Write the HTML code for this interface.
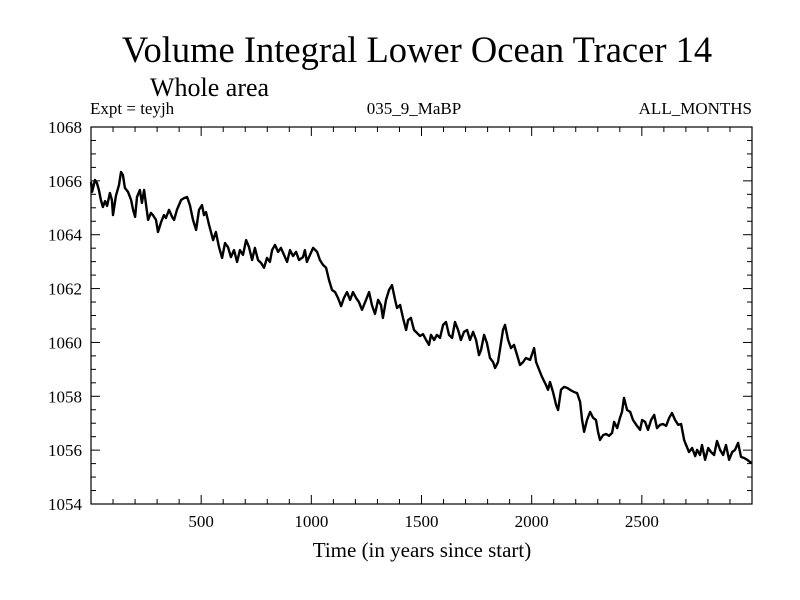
<!DOCTYPE html>
<html><head><meta charset="utf-8"><style>
html,body{margin:0;padding:0;background:#fff;}
svg{display:block;font-family:"Liberation Serif",serif;}
</style></head><body>
<svg id="chart" width="800" height="600" viewBox="0 0 800 600" xmlns="http://www.w3.org/2000/svg">
<rect width="800" height="600" fill="#fff"/>
<text x="417" y="62" font-size="36.5" text-anchor="middle">Volume Integral Lower Ocean Tracer 14</text>
<text x="150" y="96" font-size="26">Whole area</text>
<text x="90" y="114" font-size="17">Expt = teyjh</text>
<text x="414" y="114" font-size="17" text-anchor="middle">035_9_MaBP</text>
<text x="752" y="114" font-size="17" text-anchor="end">ALL_MONTHS</text>
<g id="axes"></g>
<path id="series" fill="none" stroke="#000" stroke-width="2.4" stroke-linejoin="round"/>
<text x="422" y="557" font-size="21" text-anchor="middle">Time (in years since start)</text>
</svg>
<script>
const years=[0,5,18,27,36,45,54,64,73,86,95,100,113,127,136,145,154,168,182,191,200,209,222,231,241,250,259,272,281,295,304,318,331,340,354,368,377,390,409,422,436,449,463,477,490,504,513,522,536,554,567,581,595,608,622,635,649,663,676,690,704,717,731,744,758,772,785,799,812,822,835,849,862,876,890,903,917,931,944,962,971,980,994,1008,1026,1039,1053,1067,1080,1094,1108,1121,1135,1148,1162,1176,1189,1203,1216,1230,1248,1262,1275,1289,1303,1316,1325,1339,1353,1366,1380,1389,1403,1416,1430,1439,1452,1466,1480,1493,1507,1521,1534,1543,1557,1570,1584,1598,1611,1625,1639,1652,1666,1679,1693,1707,1720,1734,1748,1761,1770,1784,1797,1811,1825,1834,1847,1856,1870,1879,1893,1906,1920,1934,1947,1961,1974,1993,2011,2020,2034,2047,2065,2074,2083,2097,2111,2120,2133,2147,2161,2174,2192,2206,2220,2229,2238,2251,2265,2279,2292,2301,2310,2324,2338,2351,2365,2374,2388,2401,2410,2419,2433,2447,2460,2478,2492,2501,2515,2528,2542,2556,2569,2583,2596,2610,2624,2637,2651,2665,2678,2692,2701,2714,2728,2742,2751,2764,2773,2787,2801,2814,2828,2841,2855,2869,2882,2896,2910,2923,2937,2950,2964,2978,2991,3000];
const values=[1065.96,1065.59,1066.03,1065.92,1065.66,1065.29,1065.03,1065.25,1065.07,1065.55,1065.29,1064.73,1065.44,1065.85,1066.33,1066.22,1065.74,1065.59,1065.29,1064.92,1064.66,1065.40,1065.66,1065.18,1065.66,1065.10,1064.55,1064.81,1064.73,1064.55,1064.10,1064.47,1064.73,1064.62,1064.92,1064.66,1064.55,1064.92,1065.29,1065.36,1065.40,1065.10,1064.55,1064.18,1064.92,1065.10,1064.73,1064.84,1064.36,1063.80,1064.10,1063.54,1063.14,1063.69,1063.54,1063.17,1063.43,1062.99,1063.43,1063.25,1063.80,1063.54,1063.06,1063.51,1063.06,1062.95,1062.77,1063.14,1062.99,1063.43,1063.62,1063.36,1063.51,1063.25,1062.99,1063.43,1063.21,1063.36,1063.06,1063.17,1063.43,1062.99,1063.25,1063.51,1063.36,1063.06,1062.88,1062.77,1062.32,1061.95,1061.87,1061.65,1061.35,1061.65,1061.87,1061.58,1061.87,1061.65,1061.50,1061.21,1061.58,1061.87,1061.39,1061.06,1061.58,1061.39,1060.91,1061.58,1061.95,1062.13,1061.58,1061.28,1061.39,1060.91,1060.46,1060.83,1060.91,1060.46,1060.35,1060.24,1060.31,1060.09,1059.91,1060.28,1060.09,1060.28,1060.17,1060.65,1060.76,1060.28,1060.17,1060.76,1060.46,1060.09,1060.39,1060.46,1060.09,1060.39,1060.09,1059.53,1059.72,1060.28,1059.98,1059.42,1059.27,1059.05,1059.27,1059.72,1060.46,1060.65,1060.09,1059.79,1059.91,1059.53,1059.16,1059.27,1059.42,1059.35,1059.79,1059.27,1058.98,1058.72,1058.42,1058.24,1058.53,1058.16,1057.68,1057.49,1058.24,1058.35,1058.31,1058.24,1058.16,1058.12,1057.79,1057.12,1056.68,1057.12,1057.42,1057.20,1057.12,1056.68,1056.38,1056.56,1056.60,1056.53,1056.64,1057.05,1056.82,1057.20,1057.42,1057.94,1057.49,1057.42,1057.12,1056.90,1056.75,1057.12,1057.05,1056.75,1057.12,1057.31,1056.82,1056.94,1056.97,1056.90,1057.20,1057.38,1057.12,1056.94,1056.97,1056.38,1056.19,1055.93,1056.08,1055.78,1056.01,1055.82,1056.19,1055.64,1056.08,1055.93,1055.82,1056.34,1056.01,1055.82,1056.19,1055.64,1055.93,1056.01,1056.27,1055.75,1055.71,1055.64,1055.56,1055.52];
const xTicks=[500,1000,1500,2000,2500];
const yTicks=[1054,1056,1058,1060,1062,1064,1066,1068];
const xMin=0,xMax=3000,yMin=1054,yMax=1068;
const L=91,R=752,T=127,B=504;
function sx(v){return L+(v-xMin)/(xMax-xMin)*(R-L);}
function sy(v){return B-(v-yMin)/(yMax-yMin)*(B-T);}
const NS="http://www.w3.org/2000/svg";
const ax=document.getElementById('axes');
function line(x1,y1,x2,y2,name){const l=document.createElementNS(NS,'line');l.setAttribute('x1',x1);l.setAttribute('y1',y1);l.setAttribute('x2',x2);l.setAttribute('y2',y2);l.setAttribute('stroke','#000');l.setAttribute('stroke-width','1');


ax.appendChild(l);}
const frame=document.createElementNS(NS,'rect');
frame.setAttribute('x',L);frame.setAttribute('y',T);frame.setAttribute('width',R-L);frame.setAttribute('height',B-T);frame.setAttribute('fill','none');frame.setAttribute('stroke','#000');frame.setAttribute('stroke-width','1.2');


ax.appendChild(frame);
for(let v=100;v<xMax;v+=100){const x=sx(v);const major=v%500===0;const len=major?9:5;
line(x,B,x,B-len,'x-tick');line(x,T,x,T+len,'x-tick-top');}
for(let v=yMin+0.5;v<yMax;v+=0.5){const y=sy(v);const major=Math.abs(v%2)<1e-6;const len=major?9:5;
line(L,y,L+len,y,'y-tick');line(R,y,R-len,y,'y-tick-right');}
xTicks.forEach(v=>{const t=document.createElementNS(NS,'text');t.setAttribute('x',sx(v));t.setAttribute('y',B+23);t.setAttribute('font-size','17');t.setAttribute('text-anchor','middle');t.textContent=v;


ax.appendChild(t);});
yTicks.forEach(v=>{const t=document.createElementNS(NS,'text');t.setAttribute('x',L-9);t.setAttribute('y',sy(v)+6);t.setAttribute('font-size','17');t.setAttribute('text-anchor','end');t.textContent=v;


ax.appendChild(t);});
let d='';years.forEach((yr,i)=>{d+=(i?'L':'M')+sx(yr).toFixed(1)+' '+sy(values[i]).toFixed(1);});
document.getElementById('series').setAttribute('d',d);
</script>
</body></html>
